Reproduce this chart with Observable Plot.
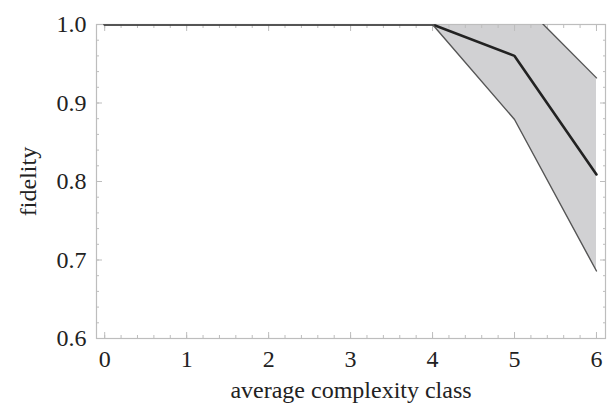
<!DOCTYPE html>
<html>
<head>
<meta charset="utf-8">
<script src="https://cdn.jsdelivr.net/npm/d3@7"></script>
<script src="https://cdn.jsdelivr.net/npm/@observablehq/plot@0.6"></script>
<style>
  html, body { margin: 0; padding: 0; background: #fff; }
</style>
</head>
<body>
<div id="chart"></div>
<script>
const complexity = [0, 1, 2, 3, 4, 5, 6];
const meanFidelity = [1, 1, 1, 1, 1, 0.960, 0.809];
const lowerFidelity = [1, 1, 1, 1, 1, 0.879, 0.686];
const upperFidelity = [1, 1, 1, 1, 1, 1.037, 0.932];
const xTicks = [0, 1, 2, 3, 4, 5, 6];
const yTicks = [0.6, 0.7, 0.8, 0.9, 1.0];

const data = complexity.map((x, i) => ({
  x, mean: meanFidelity[i], lo: lowerFidelity[i], hi: upperFidelity[i]
}));

const xMinor = d3.range(0, 6.01, 0.2).map(v => +v.toFixed(2));
const yMinor = d3.range(0.6, 1.001, 0.02).map(v => +v.toFixed(2));

const frameColor = "#bdbdbd";

const chart = Plot.plot({
  width: 611,
  height: 405,
  marginLeft: 96,
  marginRight: 6,
  marginTop: 24,
  marginBottom: 67,
  style: { fontFamily: "'Liberation Serif', 'DejaVu Serif', serif", fontSize: "24px", color: "#222", background: "#fff" },
  x: { domain: [-0.1, 6.11] },
  y: { domain: [0.6, 1.0] },
  marks: [
    Plot.areaY(data, { x: "x", y1: "lo", y2: "hi", fill: "#d1d1d3", clip: true }),
    Plot.frame({ stroke: frameColor, strokeWidth: 1.2 }),
    // inward minor ticks
    Plot.axisX({ anchor: "bottom", ticks: xMinor, tickSize: -3, tickFormat: () => "", stroke: frameColor, label: null }),
    Plot.axisX({ anchor: "top", ticks: xMinor, tickSize: -3, tickFormat: () => "", stroke: frameColor, label: null }),
    Plot.axisY({ anchor: "left", ticks: yMinor, tickSize: -3, tickFormat: () => "", stroke: frameColor, label: null }),
    Plot.axisY({ anchor: "right", ticks: yMinor, tickSize: -3, tickFormat: () => "", stroke: frameColor, label: null }),
    // inward major ticks
    Plot.axisX({ anchor: "bottom", ticks: xTicks, tickSize: -6, tickFormat: () => "", stroke: frameColor, label: null }),
    Plot.axisX({ anchor: "top", ticks: xTicks, tickSize: -6, tickFormat: () => "", stroke: frameColor, label: null }),
    Plot.axisY({ anchor: "left", ticks: yTicks, tickSize: -6, tickFormat: () => "", stroke: frameColor, label: null }),
    Plot.axisY({ anchor: "right", ticks: yTicks, tickSize: -6, tickFormat: () => "", stroke: frameColor, label: null }),
    // labels
    Plot.axisX({ anchor: "bottom", ticks: xTicks, tickSize: 0, tickPadding: 11, tickFormat: d3.format("d"), fontSize: 24,
      label: null }),
    Plot.axisX({ anchor: "bottom", ticks: [], tickSize: 0,
      label: "average complexity class", labelAnchor: "center", labelArrow: "none", labelOffset: 59, fontSize: 24 }),
    Plot.axisY({ anchor: "left", ticks: yTicks, tickSize: 0, tickPadding: 10, tickFormat: d3.format(".1f"), fontSize: 24,
      label: null }),
    Plot.axisY({ anchor: "left", ticks: [], tickSize: 0,
      label: "fidelity", labelAnchor: "center", labelArrow: "none", labelOffset: 78, fontSize: 24 }),
    Plot.line(data, { x: "x", y: "mean", stroke: "#222", strokeWidth: 2.6, clip: true }),
    Plot.line(data, { x: "x", y: "lo", stroke: "#555", strokeWidth: 1.4, clip: true }),
    Plot.line(data, { x: "x", y: "hi", stroke: "#555", strokeWidth: 1.4, clip: true })
  ]
});
document.getElementById("chart").appendChild(chart);
</script>
</body>
</html>
